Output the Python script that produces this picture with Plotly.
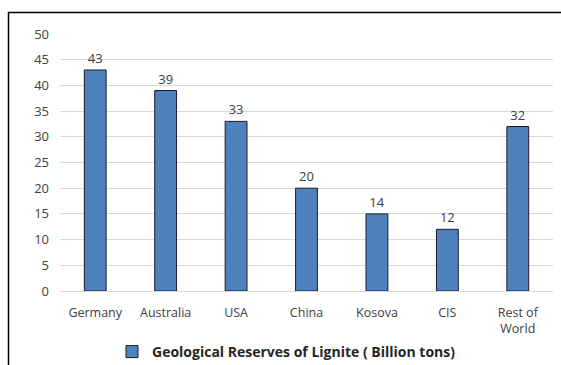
import plotly.graph_objects as go

categories = ["Germany", "Australia", "USA", "China", "Kosova", "CIS", "Rest of<br>World"]
bar_values = [43, 39, 33, 20, 15, 12, 32]
label_values = ["43", "39", "33", "20", "14", "12", "32"]
y_ticks = [0, 5, 10, 15, 20, 25, 30, 35, 40, 45, 50]
series_name = "<b>Geological Reserves of Lignite ( Billion tons)</b>"

L, R, T, B = 60, 8, 34, 74
W, H = 561, 365
pw, ph = W - L - R, H - T - B

def px(x):
    return (x - L) / pw

def py(y):
    return (H - B - y) / ph

fig = go.Figure()
fig.add_trace(go.Bar(
    x=categories, y=bar_values, text=label_values,
    textposition="outside", textfont=dict(size=13, color="#404040"),
    cliponaxis=False,
    marker=dict(color="#4F81BD", line=dict(color="#1a1a2e", width=1)),
    width=0.31, name=series_name, showlegend=True,
))

fig.add_shape(type="path", xref="paper", yref="paper",
              path=f"M {px(8.5)},{py(366)} L {px(8.5)},{py(12.5)} L {px(562)},{py(12.5)}",
              line=dict(color="black", width=1.5))

fig.update_layout(
    width=W, height=H,
    margin=dict(l=L, r=R, t=T, b=B, autoexpand=False),
    paper_bgcolor="white", plot_bgcolor="white",
    font=dict(family="Open Sans", size=12, color="#404040"),
    xaxis=dict(showgrid=False, showline=False, ticks="", ticklabelstandoff=12,
               tickfont=dict(size=12.5, color="#404040")),
    yaxis=dict(range=[0, 50], tickvals=y_ticks, showgrid=True, gridcolor="#D9D9D9", gridwidth=1,
               zeroline=True, zerolinecolor="#D9D9D9", zerolinewidth=1,
               ticks="", ticklabelstandoff=10, tickfont=dict(size=13, color="#404040")),
    showlegend=True,
    legend=dict(orientation="h", x=px(112), xanchor="left", y=py(352), yanchor="middle",
                font=dict(size=14, color="#262626"), itemwidth=30),
)

fig.write_html("out.html")
